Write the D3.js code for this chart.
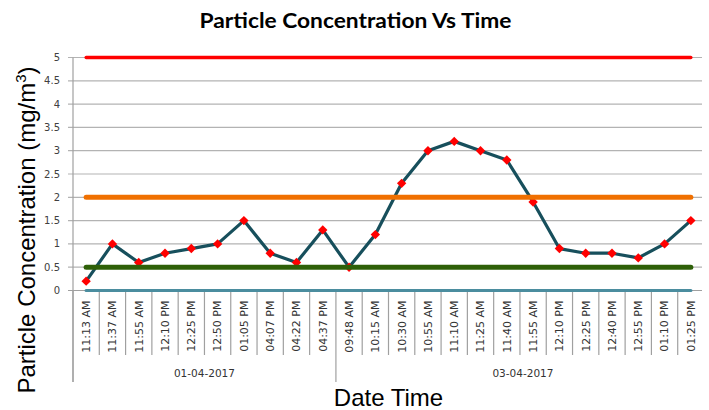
<!DOCTYPE html>
<html>
<head>
<meta charset="utf-8">
<script src="https://cdn.jsdelivr.net/npm/d3@7"></script>
<style>
  html, body { margin: 0; padding: 0; background: #fff; }
  svg { display: block; }
</style>
</head>
<body>
<svg id="chart" width="709" height="410"></svg>
<script>
// ---- data ----
const dates = ["01-04-2017", "03-04-2017"];
const day1Times = ["11:13 AM","11:37 AM","11:55 AM","12:10 PM","12:25 PM","12:50 PM","01:05 PM","04:07 PM","04:22 PM","04:37 PM"];
const day2Times = ["09:48 AM","10:15 AM","10:30 AM","10:55 AM","11:10 AM","11:25 AM","11:40 AM","11:55 AM","12:10 PM","12:25 PM","12:40 PM","12:55 PM","01:10 PM","01:25 PM"];
const concentration = [0.2, 1.0, 0.6, 0.8, 0.9, 1.0, 1.5, 0.8, 0.6, 1.3,
                       0.5, 1.2, 2.3, 3.0, 3.2, 3.0, 2.8, 1.9, 0.9, 0.8, 0.8, 0.7, 1.0, 1.5];
const limitValues = [5, 2, 0.5, 0];
const limitColors = ["#ff0000", "#f07000", "#2e6008", "#4b8d9f"];
const limitWidths = [3.4, 5, 5, 3.2];
const yTicks = [0, 0.5, 1, 1.5, 2, 2.5, 3, 3.5, 4, 4.5, 5];

// ---- build category table ----
const groups = [day1Times, day2Times];
const cats = [];
groups.forEach((times, g) => times.forEach(t => cats.push({ key: dates[g] + "|" + t, time: t, group: g })));
cats.forEach((c, i) => c.value = concentration[i]);

const svg = d3.select("#chart");
const x = d3.scaleBand().domain(cats.map(c => c.key)).range([73, 704]).padding(0);
const y = d3.scaleLinear().domain([0, 5]).range([290.5, 57.5]);
const cx = k => x(k) + x.bandwidth() / 2;

// gridlines
svg.append("g").selectAll("line").data(yTicks).join("line")
  .attr("x1", 68).attr("x2", 702)
  .attr("y1", d => y(d)).attr("y2", d => y(d))
  .attr("stroke", "#b3b3b3").attr("stroke-width", 1.2);

// y axis line
svg.append("line").attr("x1", 73).attr("x2", 73).attr("y1", y(5)).attr("y2", 382)
  .attr("stroke", "#a0a0a0").attr("stroke-width", 1.2);

// y tick labels
svg.append("g").selectAll("text").data(yTicks).join("text")
  .attr("x", 60).attr("y", d => y(d)).attr("dy", "0.35em")
  .attr("text-anchor", "end")
  .attr("font-family", "DejaVu Sans").attr("font-size", 10).attr("fill", "#404040")
  .text(d => d);

// x category ticks
const bounds = cats.map((c, i) => ({ x: x(c.key), groupStart: i === 0 || cats[i - 1].group !== c.group }));
svg.append("g").selectAll("line").data(bounds.filter(b => !b.groupStart)).join("line")
  .attr("x1", d => d.x).attr("x2", d => d.x).attr("y1", y(0)).attr("y2", 355)
  .attr("stroke", "#a0a0a0").attr("stroke-width", 1.2);
svg.append("g").selectAll("line").data(bounds.filter(b => b.groupStart)).join("line")
  .attr("x1", d => d.x).attr("x2", d => d.x).attr("y1", y(0)).attr("y2", 382)
  .attr("stroke", "#a0a0a0").attr("stroke-width", 1.2);

// x axis line
svg.append("line").attr("x1", 68).attr("x2", 702).attr("y1", y(0)).attr("y2", y(0))
  .attr("stroke", "#a0a0a0").attr("stroke-width", 1.2);

// x tick labels (rotated)
svg.append("g").selectAll("text").data(cats).join("text")
  .attr("transform", d => `translate(${cx(d.key)},300.5) rotate(-90)`)
  .attr("dy", "0.35em").attr("text-anchor", "end")
  .attr("font-family", "DejaVu Sans").attr("font-size", 11).attr("fill", "#333")
  .text(d => d.time);

// date group labels
svg.append("g").selectAll("text").data(dates).join("text")
  .attr("x", (d, g) => {
    const gc = cats.filter(c => c.group === g);
    return (x(gc[0].key) + x(gc[gc.length - 1].key) + x.bandwidth()) / 2 + (g === 1 ? 3 : 0);
  })
  .attr("y", 377).attr("text-anchor", "middle")
  .attr("font-family", "DejaVu Sans").attr("font-size", 10.5).attr("fill", "#333")
  .text(d => d);

// data line
svg.append("path").datum(cats)
  .attr("d", d3.line().x(d => cx(d.key)).y(d => y(d.value)))
  .attr("fill", "none").attr("stroke", "#174f5c").attr("stroke-width", 3.2)
  .attr("stroke-linejoin", "round");

// markers
svg.append("g").selectAll("path").data(cats).join("path")
  .attr("d", d3.symbol(d3.symbolSquare, 44))
  .attr("transform", d => `translate(${cx(d.key)},${y(d.value)}) rotate(45)`)
  .attr("fill", "#ff0000");

// limit lines
svg.append("g").selectAll("path").data(limitValues).join("path")
  .attr("d", v => d3.line().x(d => cx(d.key)).y(() => y(v))(cats))
  .attr("fill", "none")
  .attr("stroke", (v, i) => limitColors[i])
  .attr("stroke-width", (v, i) => limitWidths[i])
  .attr("stroke-linecap", "round");

// title
svg.append("text").attr("x", 355.5).attr("y", 28).attr("text-anchor", "middle")
  .attr("font-family", "Lato").attr("font-weight", 700).attr("font-size", 21.5).attr("fill", "#000")
  .attr("textLength", 312).attr("lengthAdjust", "spacingAndGlyphs")
  .text("Particle Concentration Vs Time");

// x axis title
svg.append("text").attr("x", 388.5).attr("y", 406).attr("text-anchor", "middle")
  .attr("font-family", "Liberation Sans").attr("font-size", 24).attr("fill", "#000")
  .text("Date Time");

// y axis title
const yt = svg.append("text").attr("transform", "translate(35,230) rotate(-90)")
  .attr("text-anchor", "middle")
  .attr("font-family", "Liberation Sans").attr("font-size", 24).attr("fill", "#000");
yt.append("tspan").text("Particle Concentration (mg/m");
yt.append("tspan").attr("font-size", 15).attr("dy", -9).text("3");
yt.append("tspan").attr("dy", 9).text(")");
</script>
</body>
</html>
